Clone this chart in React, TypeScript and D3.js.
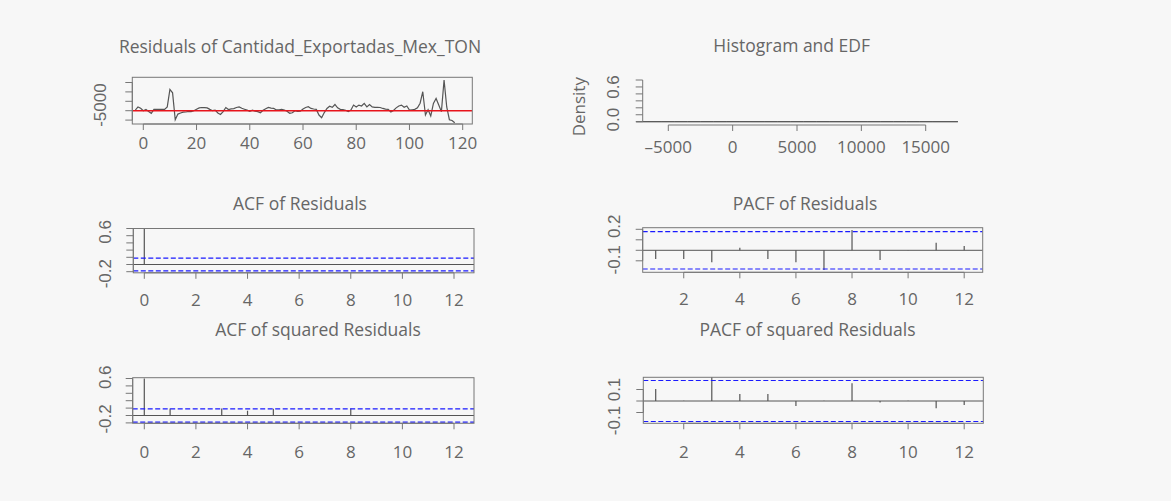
import React from 'react';
import * as d3 from 'd3';

// Residuals of the fitted export model, one value per period starting at t = -3
const residualStart = -3;
const residualValues = [
  300, 2000, 1300, 0, 700, -400, -1400, 700, 700, 700,
  700, 700, 2000, 11300, 9500, -4800, -1800, -1200, -800, -700,
  -400, -500, 0, 800, 1500, 1700, 1600, 1500, 700, 0,
  300, -1200, -2000, -500, 1700, 600, 1000, 1100, 1700, 2000,
  1300, 800, 300, -300, 300, -200, -500, -1100, 200, 1000,
  1700, 1400, 1200, 400, 400, 700, 400, -300, -1400, -1100,
  0, -400, -300, 900, 1700, 2100, 1200, 900, 700, -2300,
  -3700, -1000, 1200, 2400, 1800, 3300, 1500, 700, 600, 200,
  -500, 300, 3000, 2000, 3000, 2500, 3900, 2000, 3300, 2000,
  1800, 1800, 1700, 1200, 800, 700, -700, 100, 1500, 2500,
  3000, 1800, 2500, 300, 500, 700, 1500, 4000, 10100, -2300,
  500, -2800, 3900, 6500, 3000, -500, 16300, 2000, -4800, -5200,
  -6400,
];

// Histogram of the residuals: left break of each 1000-wide bin and its count
const histBreaks = [
  -7500, -6500, -5500, -4500, -3500, -2500, -1500, -500, 500, 1500, 2500, 3500, 4500,
  5500, 6500, 7500, 8500, 9500, 10500, 11500, 12500, 13500, 14500, 15500, 16500,
];
const histCounts = [1, 1, 2, 2, 1, 4, 9, 36, 32, 15, 9, 4, 1, 0, 1, 0, 0, 1, 1, 1, 0, 0, 0, 0, 1];
const histBinWidth = 1000;

// Correlograms
const acfLags = [0, 1, 2, 3, 4, 5, 6, 7, 8, 9, 10, 11, 12];
const acfResiduals = [1, -0.01, 0.0, -0.01, 0.01, -0.01, 0.0, -0.01, 0.01, -0.01, 0.0, 0.0, 0.0];
const acfSquared = [1, 0.19, 0.01, 0.19, 0.13, 0.18, 0.01, -0.01, 0.19, 0.0, 0.01, -0.01, 0.0];
const pacfLags = [1, 2, 3, 4, 5, 6, 7, 8, 9, 10, 11, 12];
const pacfResiduals = [-0.083, -0.083, -0.114, 0.025, -0.083, -0.114, -0.187, 0.194, -0.092, 0.003, 0.073, 0.041];
const pacfSquared = [0.104, 0.002, 0.21, 0.061, 0.061, -0.043, 0.002, 0.154, -0.014, 0.002, -0.064, -0.035];

// Axis ticks
const resXTicks = [0, 20, 40, 60, 80, 100, 120];
const resYTicks = [-5000, 0, 5000, 10000, 15000];
const histXTicks = [-5000, 0, 5000, 10000, 15000];
const histYTicks = [0, 0.1, 0.2, 0.3, 0.4, 0.5, 0.6];
const acfXTicks = [0, 2, 4, 6, 8, 10, 12];
const acfYTicks = [-0.2, 0, 0.2, 0.4, 0.6, 0.8, 1.0];
const pacfXTicks = [2, 4, 6, 8, 10, 12];
const pacfYTicks = [-0.1, 0, 0.1, 0.2];
const pacfSqYTicks = [-0.1, 0, 0.1];

const BG = '#f7f7f7';
const TEXT = '#666';
const FRAME = '#777';
const INK = '#555';
const TITLE_FONT = '"Open Sans", "Noto Sans", sans-serif';
const TICK_FONT = '"Open Sans", "Noto Sans", sans-serif';
const YLAB_FONT = '"Liberation Sans", Arial, sans-serif';

const ci = 1.96 / Math.sqrt(residualValues.length);

type Box = { x0: number; x1: number; y0: number; y1: number };
type YLabel = { value: number; text: string; dy: number };

function Title({ x, y, text }: { x: number; y: number; text: string }) {
  return (
    <text x={x} y={y} textAnchor="middle" fontFamily={TITLE_FONT} fontSize={17.5} fill={TEXT}>
      {text}
    </text>
  );
}

function XAxis({ scale, ticks, y, labelY }: {
  scale: d3.ScaleLinear<number, number>; ticks: number[]; y: number; labelY: number;
}) {
  return (
    <g>
      <line x1={scale(ticks[0])} x2={scale(ticks[ticks.length - 1])} y1={y} y2={y} stroke={FRAME} />
      {ticks.map((t) => (
        <g key={t}>
          <line x1={scale(t)} x2={scale(t)} y1={y} y2={y + 6} stroke={FRAME} />
          <text x={scale(t)} y={labelY} textAnchor="middle" fontFamily={TICK_FONT} fontSize={17} fill={TEXT}>
            {t < 0 ? `\u2013${Math.abs(t)}` : String(t)}
          </text>
        </g>
      ))}
    </g>
  );
}

function YAxis({ scale, ticks, x, labelX, labels }: {
  scale: d3.ScaleLinear<number, number>; ticks: number[]; x: number; labelX: number; labels: YLabel[];
}) {
  return (
    <g>
      <line x1={x} x2={x} y1={scale(ticks[0])} y2={scale(ticks[ticks.length - 1])} stroke={FRAME} />
      {ticks.map((t) => (
        <line key={t} x1={x - 7} x2={x} y1={scale(t)} y2={scale(t)} stroke={FRAME} />
      ))}
      {labels.map((l) => (
        <text
          key={l.text}
          transform={`translate(${labelX},${scale(l.value) + l.dy}) rotate(-90)`}
          textAnchor="middle"
          dominantBaseline="central"
          fontFamily={YLAB_FONT}
          fontSize={17}
          fill={TEXT}
        >
          {l.text}
        </text>
      ))}
    </g>
  );
}

function Frame({ box }: { box: Box }) {
  return (
    <rect x={box.x0} y={box.y0} width={box.x1 - box.x0} height={box.y1 - box.y0} fill="none" stroke={FRAME} />
  );
}

function Correlogram({ id, box, xScale, yScale, lags, values, xTicks, yTicks, yLabels, title, titleX, titleY, labelX, xLabelY }: {
  id: string; box: Box; xScale: d3.ScaleLinear<number, number>; yScale: d3.ScaleLinear<number, number>;
  lags: number[]; values: number[]; xTicks: number[]; yTicks: number[]; yLabels: YLabel[];
  title: string; titleX: number; titleY: number; labelX: number; xLabelY: number;
}) {
  return (
    <g>
      <defs>
        <clipPath id={id}>
          <rect x={box.x0} y={box.y0} width={box.x1 - box.x0} height={box.y1 - box.y0} />
        </clipPath>
      </defs>
      <Title x={titleX} y={titleY} text={title} />
      <g clipPath={`url(#${id})`}>
        <line x1={box.x0} x2={box.x1} y1={yScale(0)} y2={yScale(0)} stroke={INK} />
        {lags.map((lag, i) => (
          <line key={lag} x1={xScale(lag)} x2={xScale(lag)} y1={yScale(0)} y2={yScale(values[i])} stroke={INK} strokeWidth={1.2} />
        ))}
        {[ci, -ci].map((c) => (
          <line key={c} x1={box.x0} x2={box.x1} y1={yScale(c)} y2={yScale(c)} stroke="#1a1aff" strokeWidth={1.2} strokeDasharray="5,2.5" />
        ))}
      </g>
      <Frame box={box} />
      <XAxis scale={xScale} ticks={xTicks} y={box.y1} labelY={xLabelY} />
      <YAxis scale={yScale} ticks={yTicks} x={box.x0} labelX={labelX} labels={yLabels} />
    </g>
  );
}

export default function App() {
  // Residual series
  const b1: Box = { x0: 132.3, x1: 472.3, y0: 77.3, y1: 124 };
  const xRes = d3.scaleLinear().domain([0, 120]).range([143.3, 462.7]);
  const yRes = d3.scaleLinear().domain([0, 5000]).range([110.7, 101.3]);
  const resLine = d3
    .line<number>()
    .x((_, i) => xRes(residualStart + i))
    .y((d) => yRes(d));

  // Histogram
  const xHist = d3.scaleLinear().domain([-5000, 15000]).range([668.3, 925.7]);
  const yHist = d3.scaleLinear().domain([0, 0.6]).range([121.7, 80]);
  const n = d3.sum(histCounts);

  // Correlogram frames
  const b3: Box = { x0: 133.3, x1: 474, y0: 228.5, y1: 272.8 };
  const b4: Box = { x0: 642.7, x1: 982.7, y0: 227.7, y1: 272.3 };
  const b5: Box = { x0: 132.7, x1: 474, y0: 377.7, y1: 423.3 };
  const b6: Box = { x0: 643.3, x1: 983.3, y0: 377.3, y1: 423.3 };
  const xAcf = d3.scaleLinear().domain([0, 12]).range([144.3, 454]);
  const xPacf = d3.scaleLinear().domain([1, 12]).range([655.7, 964.2]);
  const yAcf3 = d3.scaleLinear().domain([0, 1]).range([264.5, 228.5]);
  const yPacf4 = d3.scaleLinear().domain([0, 0.1]).range([250.3, 239.8]);
  const yAcf5 = d3.scaleLinear().domain([0, 1]).range([415.5, 378.5]);
  const yPacf6 = d3.scaleLinear().domain([0, 0.1]).range([401, 389.5]);

  return (
    <svg width={1171} height={501} style={{ position: 'absolute', left: 0, top: 0, background: BG }}>
      <rect x={0} y={0} width={1171} height={501} fill={BG} />

      {/* Residuals over time */}
      <defs>
        <clipPath id="clip-res">
          <rect x={b1.x0} y={b1.y0} width={b1.x1 - b1.x0} height={b1.y1 - b1.y0} />
        </clipPath>
      </defs>
      <Title x={300} y={52.5} text="Residuals of Cantidad_Exportadas_Mex_TON" />
      <g clipPath="url(#clip-res)">
        <path d={resLine(residualValues) || ''} fill="none" stroke={INK} strokeWidth={1.2} />
        <line x1={b1.x0} x2={b1.x1} y1={yRes(0)} y2={yRes(0)} stroke="#e8141c" strokeWidth={1.6} />
      </g>
      <Frame box={b1} />
      <XAxis scale={xRes} ticks={resXTicks} y={b1.y1} labelY={149} />
      <YAxis scale={yRes} ticks={resYTicks} x={b1.x0} labelX={100} labels={[{ value: -5000, text: '-5000', dy: -15 }]} />

      {/* Histogram of residuals: bars drawn as open outlines (densities are tiny) */}
      <Title x={791.7} y={52} text="Histogram and EDF" />
      {histBreaks.map((b, i) => {
        const dens = histCounts[i] / (n * histBinWidth);
        const xa = xHist(b);
        const xb = xHist(b + histBinWidth);
        const y0 = yHist(0);
        const yt = yHist(dens);
        return (
          <path
            key={b}
            d={`M${xa},${y0}V${yt}H${xb}V${y0}Z`}
            fill="none"
            stroke={INK}
          />
        );
      })}
      <XAxis scale={xHist} ticks={histXTicks} y={125} labelY={152.5} />
      <YAxis
        scale={yHist}
        ticks={histYTicks}
        x={642.7}
        labelX={613}
        labels={[
          { value: 0, text: '0.0', dy: -2 },
          { value: 0.6, text: '0.6', dy: 7 },
        ]}
      />
      <text
        transform="translate(578,106.7) rotate(-90)"
        textAnchor="middle"
        dominantBaseline="central"
        fontFamily={TITLE_FONT}
        fontSize={17}
        fill={TEXT}
      >
        Density
      </text>

      <Correlogram
        id="clip-acf"
        box={b3}
        xScale={xAcf}
        yScale={yAcf3}
        lags={acfLags}
        values={acfResiduals}
        xTicks={acfXTicks}
        yTicks={acfYTicks}
        yLabels={[
          { value: -0.2, text: '-0.2', dy: 2 },
          { value: 0.6, text: '0.6', dy: -11 },
        ]}
        title="ACF of Residuals"
        titleX={300}
        titleY={210}
        labelX={105}
        xLabelY={306}
      />
      <Correlogram
        id="clip-pacf"
        box={b4}
        xScale={xPacf}
        yScale={yPacf4}
        lags={pacfLags}
        values={pacfResiduals}
        xTicks={pacfXTicks}
        yTicks={pacfYTicks}
        yLabels={[
          { value: -0.1, text: '-0.1', dy: -1 },
          { value: 0.2, text: '0.2', dy: -3 },
        ]}
        title="PACF of Residuals"
        titleX={805}
        titleY={210}
        labelX={614}
        xLabelY={304.5}
      />
      <Correlogram
        id="clip-acf2"
        box={b5}
        xScale={xAcf}
        yScale={yAcf5}
        lags={acfLags}
        values={acfSquared}
        xTicks={acfXTicks}
        yTicks={acfYTicks}
        yLabels={[
          { value: -0.2, text: '-0.2', dy: -4 },
          { value: 0.6, text: '0.6', dy: -16 },
        ]}
        title="ACF of squared Residuals"
        titleX={318}
        titleY={336}
        labelX={105}
        xLabelY={458}
      />
      <Correlogram
        id="clip-pacf2"
        box={b6}
        xScale={xPacf}
        yScale={yPacf6}
        lags={pacfLags}
        values={pacfSquared}
        xTicks={pacfXTicks}
        yTicks={pacfSqYTicks}
        yLabels={[
          { value: -0.1, text: '-0.1', dy: 8 },
          { value: 0.1, text: '0.1', dy: 0 },
        ]}
        title="PACF of squared Residuals"
        titleX={807.5}
        titleY={336}
        labelX={614}
        xLabelY={458}
      />
    </svg>
  );
}
